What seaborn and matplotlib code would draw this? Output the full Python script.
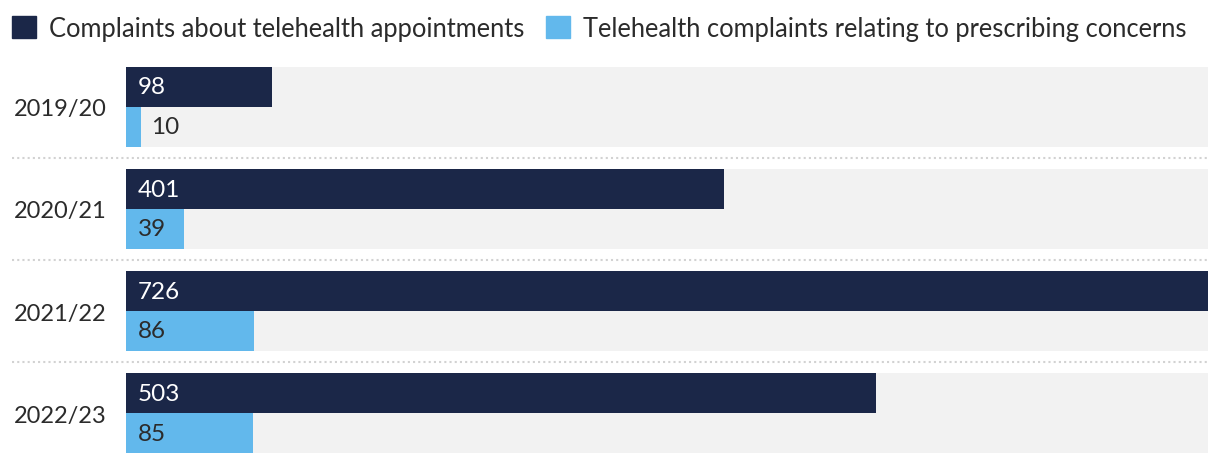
import matplotlib
matplotlib.use("Agg")
import matplotlib.pyplot as plt
import seaborn as sns
import pandas as pd
from matplotlib.patches import Patch

years = ["2019/20", "2020/21", "2021/22", "2022/23"]
series_names = ["Complaints about telehealth appointments",
                "Telehealth complaints relating to prescribing concerns"]
appointments = [98, 401, 726, 503]
prescribing = [10, 39, 86, 85]

dark = "#1b2748"
light = "#62b8ec"
band = "#f2f2f2"
text_col = "#2b2b2b"

sns.set_theme(style="white")
plt.rcParams['font.family'] = ['Lato', 'DejaVu Sans']

df = pd.DataFrame({
    "year": years * 2,
    "series": [series_names[0]] * 4 + [series_names[1]] * 4,
    "value": appointments + prescribing,
})

W, H = 1220, 464
fig = plt.figure(figsize=(W / 100, H / 100), dpi=100)
ax = fig.add_axes([126 / W, (H - 454) / H, (1208 - 126) / W, (454 - 68) / H])

bw = 0.784
xmax = max(appointments)
# background bands
ax.barh(range(len(years)), [xmax] * len(years), height=bw, color=band,
        linewidth=0, zorder=0)

sns.barplot(data=df, y="year", x="value", hue="series", orient="h",
            palette=[dark, light], width=bw, dodge=True, ax=ax,
            saturation=1, legend=False, zorder=2, linewidth=0)

ax.set_xlim(0, xmax)
ax.set_ylim(len(years) - 1 + bw / 2, -bw / 2)
ax.set_xlabel("")
ax.set_ylabel("")
ax.set_xticks([])
for s in ax.spines.values():
    s.set_visible(False)
ax.tick_params(axis="y", length=0, pad=14, labelsize=17, labelcolor=text_col)

# value labels
fs = 17.5
for i, (a, p) in enumerate(zip(appointments, prescribing)):
    ya = i - bw / 4
    yp = i + bw / 4
    ax.text(12 * xmax / 1082, ya, str(a), color="white", fontsize=fs,
            va="center", ha="left", zorder=3)
    px_end = p / xmax * 1082
    xoff = 12 if px_end > 40 else px_end + 10
    ax.text(xoff * xmax / 1082, yp, str(p), color=text_col, fontsize=fs,
            va="center", ha="left", zorder=3)

# dotted separators
for i in range(len(years) - 1):
    ax.axhline(i + 0.5, xmin=(12 - 126) / 1082, xmax=1, color="#d2d2d2",
               linestyle=(0, (1, 1.5)), linewidth=1.5, clip_on=False)

handles = [Patch(facecolor=dark, edgecolor=dark), Patch(facecolor=light, edgecolor=light)]
fig.legend(handles, series_names, loc="upper left", bbox_to_anchor=(-0.009, 1.013),
           ncol=2, frameon=False, fontsize=18.4, handlelength=0.95, handleheight=0.95,
           handletextpad=0.5, columnspacing=0.85, labelcolor=text_col,
           borderaxespad=0.5)

fig.savefig("out.png", dpi=100)
